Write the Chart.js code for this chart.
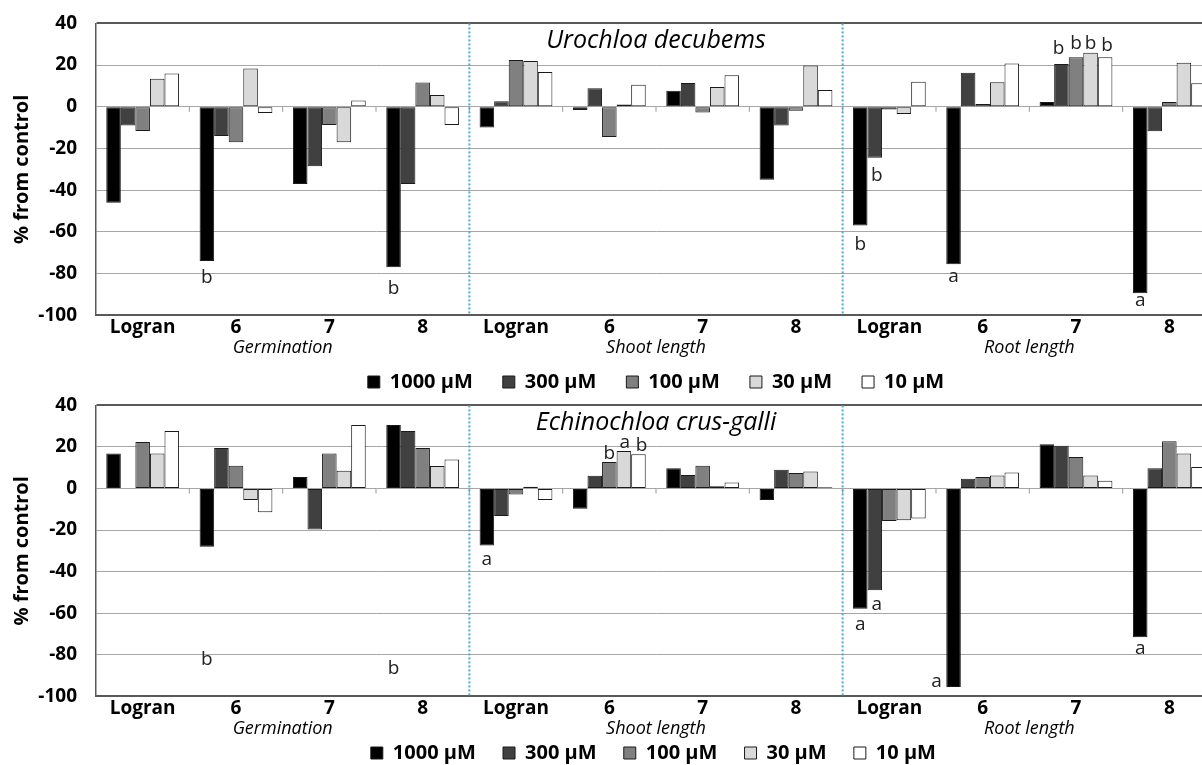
<!DOCTYPE html>
<html lang="en">
<head>
  <meta charset="UTF-8">
  <title>% from control</title>
  <script src="https://cdn.jsdelivr.net/npm/chart.js"></script>
  <style>
    html, body { margin: 0; padding: 0; background: #fff; overflow: hidden; width: 1202px; height: 765px; }
    canvas { position: absolute; left: 0; }
    #topChart { top: -7px; }
    #bottomChart { top: 375px; }
  </style>
</head>
<body>
  <canvas id="topChart" width="1220" height="409"></canvas>
  <canvas id="bottomChart" width="1220" height="398"></canvas>

  <script>
    const categories = ['Logran', '6', '7', '8', 'Logran', '6', '7', '8', 'Logran', '6', '7', '8'];
    const groups = ['Germination', 'Shoot length', 'Root length'];
    const seriesNames = ['1000 µM', '300 µM', '100 µM', '30 µM', '10 µM'];
    const seriesColors = ['#000000', '#404040', '#808080', '#d9d9d9', '#ffffff'];
    const yMin = -100, yMax = 40, yStep = 20;

    // Urochloa decubems
    const uro1000 = [-46, -74, -37, -77, -10, -1.5, 7.7, -35, -57, -75.5, 2.3, -89.5];
    const uro300 = [-9, -14, -28.5, -37, 2.7, 8.9, 11.4, -9, -24.5, 16.3, 20.5, -11.8];
    const uro100 = [-11.6, -17, -8.7, 11.6, 22.5, -14.5, -2.7, -1.9, -1.3, 1.3, 23.7, 2.3];
    const uro30 = [13.5, 18.4, -17, 5.6, 22, 1.1, 9.5, 19.8, -3.5, 11.8, 25.9, 21.1];
    const uro10 = [16, -3, 3, -8.7, 16.7, 10.6, 15.1, 8, 12, 20.8, 23.8, 11.3];

    // Echinochloa crus-galli
    const ech1000 = [16.9, -28, 5.5, 30.6, -27.4, -9.7, 9.7, -5.5, -57.9, -95.6, 21.3, -71.6];
    const ech300 = [0, 19.5, -19.8, 27.7, -13.2, 6.1, 6.5, 9, -49, 4.7, 20.6, 9.7];
    const ech100 = [22.4, 11, 16.8, 19.5, -2.9, 12.7, 11, 7.4, -15.6, 5.5, 15.2, 22.7];
    const ech30 = [16.9, -5.6, 8.5, 10.8, 0.8, 18.1, 1.1, 8.2, -15.3, 6.3, 6.3, 16.8];
    const ech10 = [27.7, -11.5, 30.6, 13.9, -5.5, 16.5, 2.9, 0.6, -14.5, 7.7, 3.7, 10.3];

    // significance letters: category index, series index, y value, letter, x shift
    const uroLetters = [
      [1, 0, -82, 'b', 0], [3, 0, -87, 'b', 0], [8, 0, -66, 'b', 0], [8, 1, -33, 'b', 2],
      [9, 0, -81.5, 'a', 0], [10, 1, 28, 'b', -3], [10, 2, 30.5, 'b', 0], [10, 3, 30.5, 'b', 0],
      [10, 4, 29.5, 'b', 2], [11, 0, -93, 'a', 0]
    ];
    const echLetters = [
      [1, 0, -82.4, 'b', 0], [3, 0, -86.8, 'b', 0], [4, 0, -34, 'a', 0], [5, 2, 16.8, 'b', 0],
      [5, 3, 22.3, 'a', 1], [5, 4, 20.7, 'b', 3], [8, 1, -56, 'a', 2], [8, 0, -65.6, 'a', 0],
      [9, 0, -93, 'a', -17], [11, 0, -77, 'a', 0]
    ];

    Chart.defaults.font.family = '"Open Sans", sans-serif';
    Chart.defaults.color = '#000';

    const decorPlugin = {
      id: 'decor',
      afterDatasetsDraw(chart, args, opts) {
        const ctx = chart.ctx;
        const area = chart.chartArea;
        const x = chart.scales.x;
        const y = chart.scales.y;
        ctx.save();

        // small ticks on the zero line
        const y0 = y.getPixelForValue(0);
        ctx.strokeStyle = '#999';
        ctx.lineWidth = 1;
        for (let i = 1; i < categories.length; i++) {
          const bx = (x.getPixelForValue(i - 1) + x.getPixelForValue(i)) / 2;
          ctx.beginPath();
          ctx.moveTo(bx, y0);
          ctx.lineTo(bx, y0 + 5);
          ctx.stroke();
        }

        // dotted group separators
        ctx.strokeStyle = '#4bacc6';
        ctx.lineWidth = 2;
        ctx.setLineDash([2, 2]);
        [4, 8].forEach(i => {
          const bx = (x.getPixelForValue(i - 1) + x.getPixelForValue(i)) / 2;
          ctx.beginPath();
          ctx.moveTo(bx, area.top);
          ctx.lineTo(bx, area.bottom);
          ctx.stroke();
        });
        ctx.setLineDash([]);

        // species name
        ctx.fillStyle = '#000';
        ctx.font = 'italic 25px "Open Sans"';
        ctx.textAlign = 'center';
        ctx.textBaseline = 'alphabetic';
        ctx.fillText(opts.title, (area.left + area.right) / 2, area.top + 25);

        // group labels
        ctx.font = 'italic 18px "Open Sans"';
        ctx.textBaseline = 'middle';
        groups.forEach((g, gi) => {
          const gx = (x.getPixelForValue(gi * 4 + 1) + x.getPixelForValue(gi * 4 + 2)) / 2;
          ctx.fillText(g, gx, area.bottom + 33);
        });

        // letters
        ctx.font = '19px "Open Sans"';
        ctx.fillStyle = '#222';
        opts.letters.forEach(([ci, di, v, t, dx]) => {
          const el = chart.getDatasetMeta(di).data[ci];
          ctx.fillText(t, el.x + dx, y.getPixelForValue(v));
        });
        ctx.restore();
      }
    };

    function makeChart(id, title, series, letters, xExtra, legendPad, labelTail) {
      const ctx = document.getElementById(id).getContext('2d');
      return new Chart(ctx, {
        type: 'bar',
        data: {
          labels: categories,
          datasets: series.map((vals, i) => ({
            label: seriesNames[i],
            data: vals,
            backgroundColor: seriesColors[i],
            borderColor: '#1a1a1a',
            borderWidth: 1,
            borderSkipped: false,
            categoryPercentage: 0.78,
            barPercentage: 1.0,
          })),
        },
        options: {
          responsive: false,
          animation: false,
          layout: { padding: { top: 30, right: 4, left: 0, bottom: 0 } },
          plugins: {
            legend: {
              position: 'bottom',
              fullSize: false,
              labels: {
                boxWidth: 12,
                boxHeight: 12,
                padding: legendPad,
                color: '#000',
                font: { size: 20, weight: 'bold' },
                generateLabels: (chart) => Chart.defaults.plugins.legend.labels.generateLabels(chart)
                  .map(l => Object.assign(l, { text: l.text + labelTail })),
              },
            },
            tooltip: { enabled: false },
            decor: { title: title, letters: letters },
          },
          scales: {
            x: {
              grid: { display: false, drawTicks: false },
              border: { display: true, color: '#595959', width: 2 },
              ticks: {
                autoSkip: false,
                maxRotation: 0,
                padding: 1,
                color: '#000',
                font: { size: 19, weight: 'bold' },
              },
              afterFit: (scale) => { scale.height += xExtra; },
            },
            y: {
              min: yMin,
              max: yMax,
              ticks: {
                stepSize: yStep,
                padding: 19,
                color: '#000',
                font: { size: 19, weight: 'bold' },
              },
              grid: {
                drawTicks: false,
                color: (c) => (c.tick && (c.tick.value === yMax) ? '#595959' : '#a6a6a6'),
                lineWidth: (c) => (c.tick && (c.tick.value === yMax) ? 2 : 1),
              },
              border: { color: '#595959', width: 1.5 },
              title: {
                display: true,
                text: '% from control',
                color: '#000',
                font: { size: 20, weight: 'bold' },
                padding: { top: 10, bottom: 0 },
              },
              afterFit: (scale) => { scale.width = 96; },
            },
          },
        },
        plugins: [decorPlugin],
      });
    }

    makeChart('topChart', 'Urochloa decubems', [uro1000, uro300, uro100, uro30, uro10], uroLetters, 2, 30, '');
    makeChart('bottomChart', 'Echinochloa crus-galli', [ech1000, ech300, ech100, ech30, ech10], echLetters, 0, 22, ' ');
  </script>
</body>
</html>
